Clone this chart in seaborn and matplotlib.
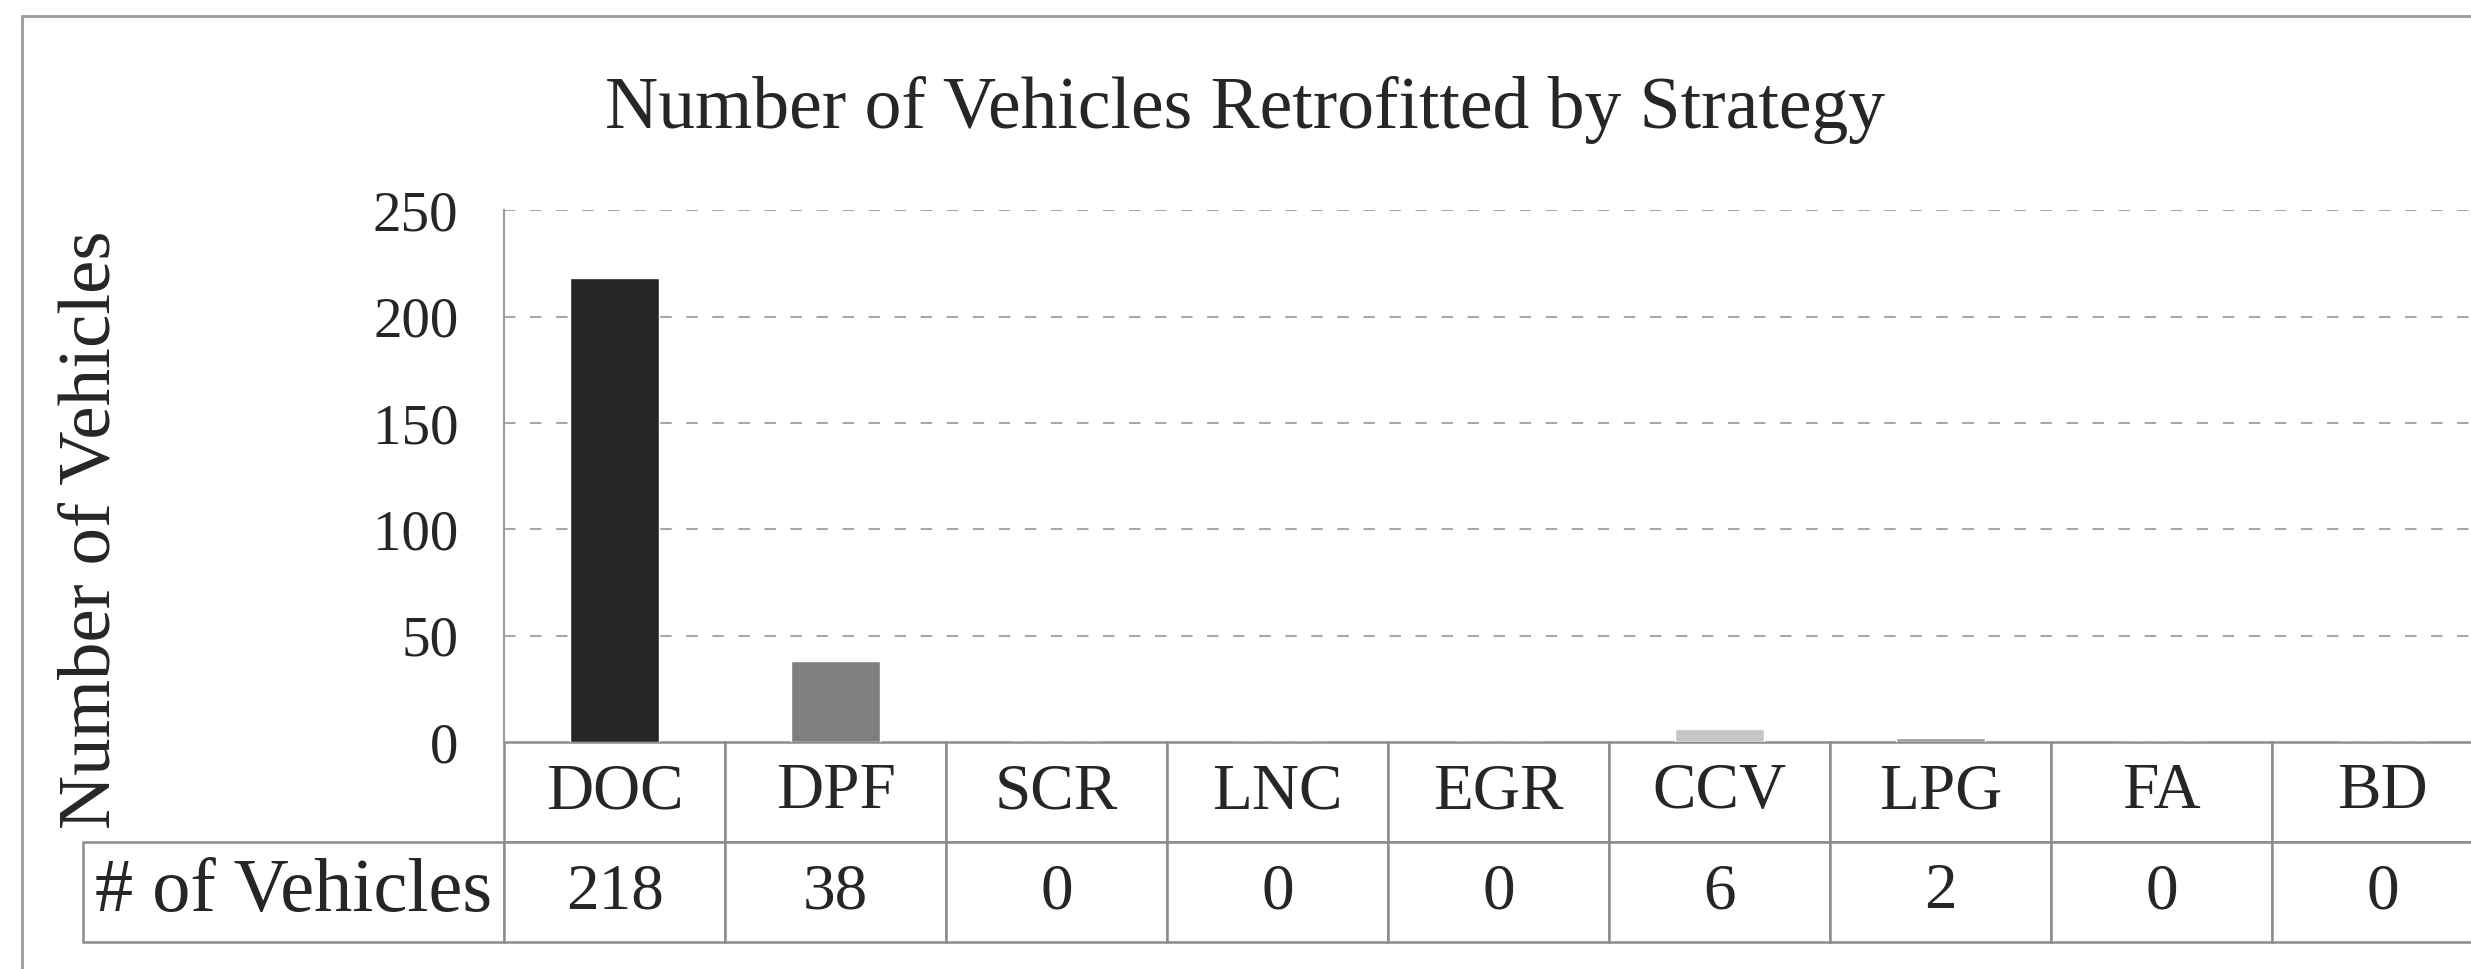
import matplotlib
matplotlib.use('Agg')
import matplotlib.pyplot as plt
from matplotlib.patches import Rectangle
import seaborn as sns

strategies = ['DOC', 'DPF', 'SCR', 'LNC', 'EGR', 'CCV', 'LPG', 'FA', 'BD']
vehicles = [218, 38, 0, 0, 0, 6, 2, 0, 0]
bar_colors = ['#262626', '#7f7f7f', '#5a5a5a', '#6e6e6e', '#8a8a8a',
              '#c6c6c6', '#9c9c9c', '#b0b0b0', '#d0d0d0']
y_ticks = [0, 50, 100, 150, 200, 250]
row_label = '# of Vehicles'

sns.set_style('white')
plt.rcParams['font.family'] = ['Liberation Serif', 'DejaVu Serif']

fig = plt.figure(figsize=(24.71, 9.69), dpi=100)
ax = fig.add_axes((0.204, 0.234, 0.805, 0.549))

sns.barplot(x=strategies, y=vehicles, hue=strategies, palette=bar_colors,
            legend=False, width=0.4, saturation=1, ax=ax)

ax.set_xlim(-0.5, len(strategies) - 0.5)
ax.set_ylim(0, 250)
ax.set_yticks(y_ticks)
ax.tick_params(axis='y', length=0, labelsize=41, pad=33)
ax.tick_params(axis='x', length=0, labelbottom=False)
ax.set_xlabel('')

ax.grid(axis='y', color='#a8a8a8', lw=1.5, linestyle=(0, (5.5, 7)))
ax.set_axisbelow(True)
for side in ['top', 'right', 'bottom']:
    ax.spines[side].set_visible(False)
ax.spines['left'].set_color('#9a9a9a')
ax.spines['left'].set_linewidth(1.5)

ax.set_ylabel('Number of Vehicles', fontsize=54)
ax.yaxis.set_label_coords(-0.2075, 0.40)
ax.yaxis.label.set_va('center')

fig.text(0.504, 0.886, 'Number of Vehicles Retrofitted by Strategy',
         ha='center', va='center', fontsize=53)

# data table under the bars
label_w = 0.2116
tbl = ax.table(cellText=[[row_label] + [str(v) for v in vehicles]],
               colLabels=[''] + strategies,
               colWidths=[label_w] + [1 / len(strategies)] * len(strategies),
               cellLoc='center',
               bbox=[-label_w, -0.376, 1 + label_w, 0.376])
tbl.auto_set_font_size(False)
tbl.set_fontsize(47)
for (r, c), cell in tbl.get_celld().items():
    cell.set_edgecolor('#8c8c8c')
    cell.set_linewidth(1.8)
    if r == 0 and c == 0:
        cell.visible_edges = ''
tbl[1, 0].get_text().set_fontsize(55)

# outer chart border (left and top only are inside the picture)
fig.add_artist(Rectangle((0.009, -0.1), 1.2, 1.083, transform=fig.transFigure,
                         fill=False, ec='#9a9a9a', lw=2))

fig.savefig('out.png', dpi=100)
